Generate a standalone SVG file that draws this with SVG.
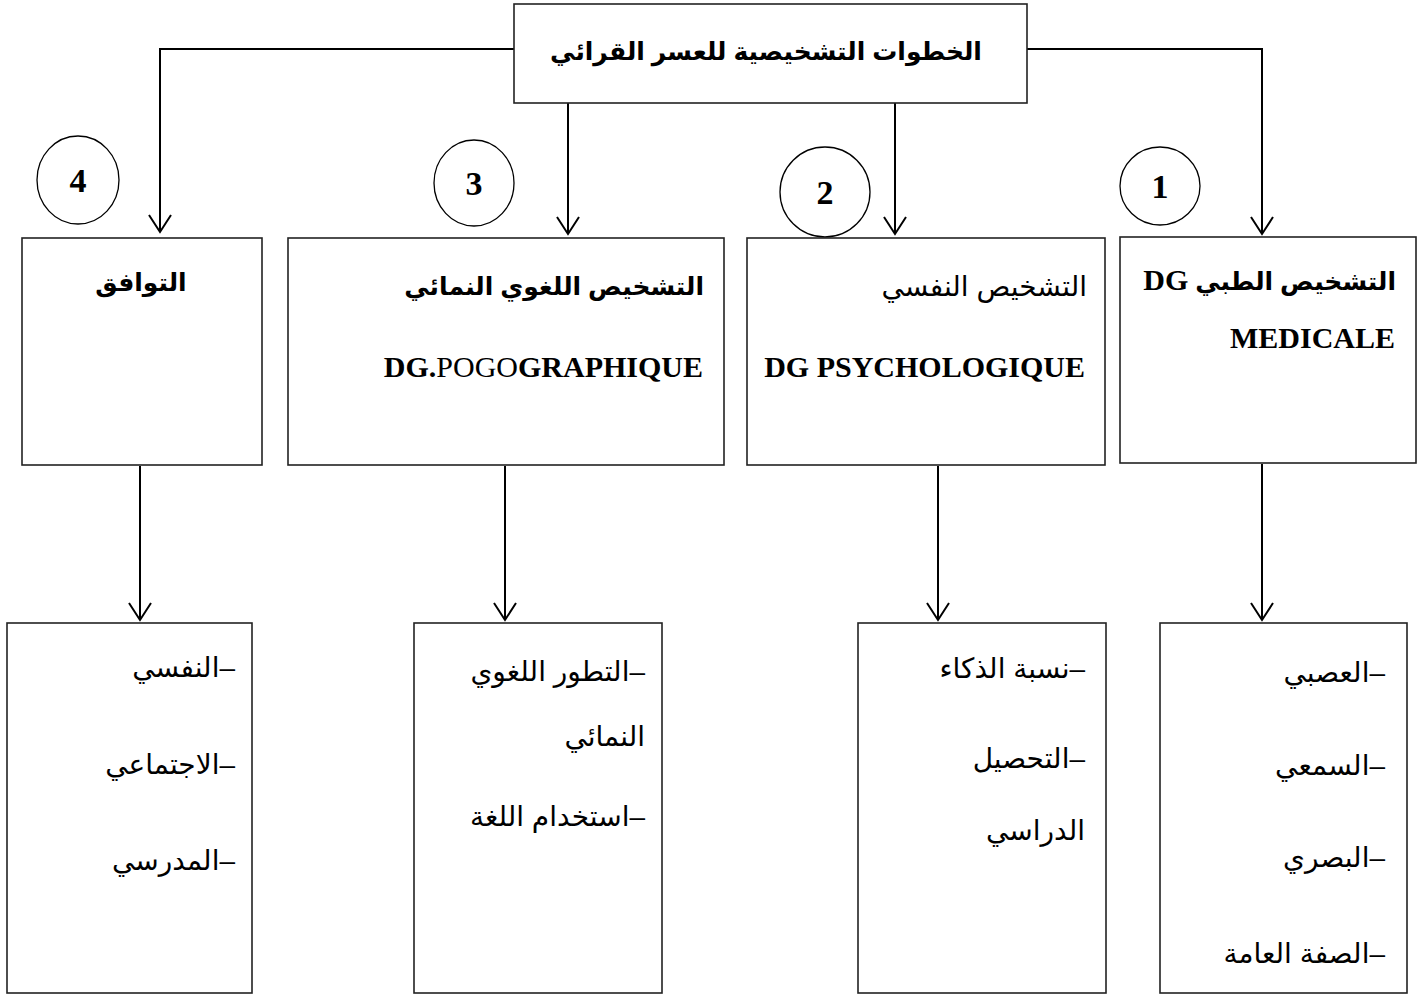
<svg xmlns="http://www.w3.org/2000/svg" width="1427" height="996" viewBox="0 0 1427 996">
<defs>
<marker id="arr" markerWidth="20" markerHeight="24" refX="18" refY="12" orient="auto" markerUnits="userSpaceOnUse" viewBox="0 0 20 24">
<path d="M1,1 L18,12 L1,23" fill="none" stroke="#000" stroke-width="2"/>
</marker>
</defs>
<style>
.box{fill:#fff;stroke:#222;stroke-width:1.6}
.circ{fill:none;stroke:#000;stroke-width:1.3}
.con{fill:none;stroke:#000;stroke-width:2}
.ar{font-family:"Liberation Sans","DejaVu Sans",sans-serif;font-size:28px;fill:#000}
.arb{font-family:"Liberation Sans","DejaVu Sans",sans-serif;font-size:25px;font-weight:bold;fill:#000}
.lat{font-family:"Liberation Serif","DejaVu Serif",serif;font-size:30px;font-weight:bold;fill:#000}
.num{font-family:"Liberation Serif","DejaVu Serif",serif;font-size:34px;font-weight:bold;fill:#000}
</style>
<rect width="1427" height="996" fill="#fff"/>

<g id="connectors">
<polyline class="con" points="514,49 160,49 160,232" marker-end="url(#arr)"/>
<polyline class="con" points="1027,49 1262,49 1262,234" marker-end="url(#arr)"/>
<line class="con" x1="568" y1="103" x2="568" y2="234" marker-end="url(#arr)"/>
<line class="con" x1="895" y1="103" x2="895" y2="234" marker-end="url(#arr)"/>
<line class="con" x1="140" y1="466" x2="140" y2="620" marker-end="url(#arr)"/>
<line class="con" x1="505" y1="466" x2="505" y2="620" marker-end="url(#arr)"/>
<line class="con" x1="938" y1="466" x2="938" y2="620" marker-end="url(#arr)"/>
<line class="con" x1="1262" y1="464" x2="1262" y2="620" marker-end="url(#arr)"/>
</g>

<g id="root">
<rect class="box" x="514" y="4" width="513" height="99"/>
<text class="arb" x="766" y="60" text-anchor="middle" direction="rtl" font-size="26">الخطوات التشخيصية للعسر القرائي</text>
</g>

<g id="circle1"><ellipse class="circ" cx="1160" cy="186" rx="40" ry="39"/><text class="num" x="1160" y="198" text-anchor="middle">1</text></g>
<g id="circle2"><ellipse class="circ" cx="825" cy="192" rx="45" ry="45"/><text class="num" x="825" y="204" text-anchor="middle">2</text></g>
<g id="circle3"><ellipse class="circ" cx="474" cy="183" rx="40" ry="43"/><text class="num" x="474" y="195" text-anchor="middle">3</text></g>
<g id="circle4"><ellipse class="circ" cx="78" cy="180" rx="41" ry="44"/><text class="num" x="78" y="192" text-anchor="middle">4</text></g>

<g id="node1">
<rect class="box" x="1120" y="237" width="296" height="226"/>
<text class="arb" x="1396" y="290" direction="rtl" text-anchor="start">التشخيص الطبي <tspan class="lat">DG</tspan></text>
<text class="lat" x="1395" y="348" text-anchor="end" font-size="33">MEDICALE</text>
</g>

<g id="node2">
<rect class="box" x="747" y="238" width="358" height="227"/>
<text class="ar" x="1087" y="296" direction="rtl" text-anchor="start">التشخيص النفسي</text>
<text class="lat" x="1085" y="377" text-anchor="end" font-size="28.3">DG PSYCHOLOGIQUE</text>
</g>

<g id="node3">
<rect class="box" x="288" y="238" width="436" height="227"/>
<text class="arb" x="704" y="295" direction="rtl" text-anchor="start">التشخيص اللغوي النمائي</text>
<text class="lat" x="703" y="377" text-anchor="end" font-size="31.9">DG.<tspan font-weight="normal">POGO</tspan>GRAPHIQUE</text>
</g>

<g id="node4">
<rect class="box" x="22" y="238" width="240" height="227"/>
<text class="arb" x="141" y="291" text-anchor="middle" direction="rtl">التوافق</text>
</g>

<g id="detail1">
<rect class="box" x="1160" y="623" width="247" height="370"/>
<text class="ar" x="1385" y="682" direction="rtl" text-anchor="start">–العصبي</text>
<text class="ar" x="1385" y="775" direction="rtl" text-anchor="start">–السمعي</text>
<text class="ar" x="1385" y="867" direction="rtl" text-anchor="start">–البصري</text>
<text class="ar" x="1385" y="963" direction="rtl" text-anchor="start">–الصفة العامة</text>
</g>

<g id="detail2">
<rect class="box" x="858" y="623" width="248" height="370"/>
<text class="ar" x="1085" y="678" direction="rtl" text-anchor="start">–نسبة الذكاء</text>
<text class="ar" x="1085" y="768" direction="rtl" text-anchor="start">–التحصيل</text>
<text class="ar" x="1085" y="840" direction="rtl" text-anchor="start">الدراسي</text>
</g>

<g id="detail3">
<rect class="box" x="414" y="623" width="248" height="370"/>
<text class="ar" x="645" y="681" direction="rtl" text-anchor="start">–التطور اللغوي</text>
<text class="ar" x="645" y="746" direction="rtl" text-anchor="start">النمائي</text>
<text class="ar" x="645" y="826" direction="rtl" text-anchor="start">–استخدام اللغة</text>
</g>

<g id="detail4">
<rect class="box" x="7" y="623" width="245" height="370"/>
<text class="ar" x="235" y="677" direction="rtl" text-anchor="start">–النفسي</text>
<text class="ar" x="235" y="774" direction="rtl" text-anchor="start">–الاجتماعي</text>
<text class="ar" x="235" y="870" direction="rtl" text-anchor="start">–المدرسي</text>
</g>
</svg>
